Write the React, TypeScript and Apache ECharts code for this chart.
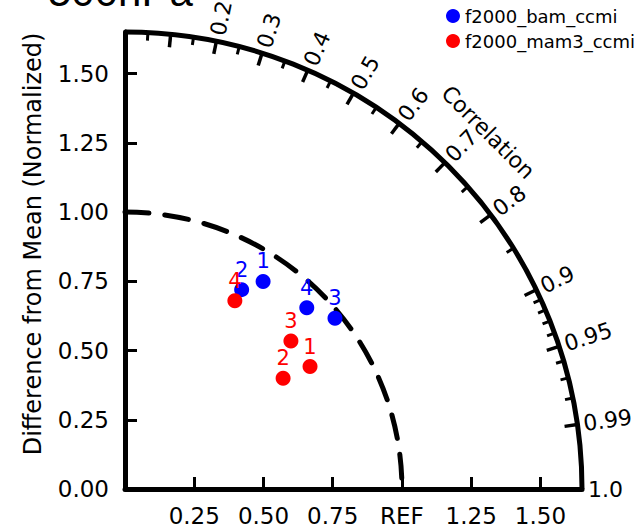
import React, { useEffect, useRef } from "react";
import * as echarts from "echarts";

// ---- data (Taylor diagram: normalized std ratio and correlation) ----
const seriesNames = ["f2000_bam_ccmi", "f2000_mam3_ccmi"];
const seriesColors = ["#0000ff", "#ff0000"];
const caseLabels = ["1", "2", "3", "4"];
const bamRatio = [0.9, 0.834, 0.977, 0.927];
const bamCorr = [0.554, 0.505, 0.776, 0.708];
const mamRatio = [0.801, 0.697, 0.803, 0.787];
const mamCorr = [0.834, 0.819, 0.746, 0.504];

const stdTicks = [0, 0.25, 0.5, 0.75, 1.0, 1.25, 1.5];
const yTickLabels = ["0.00", "0.25", "0.50", "0.75", "1.00", "1.25", "1.50"];
const xTickLabels = ["", "0.25", "0.50", "0.75", "REF", "1.25", "1.50"];
const corrMajor = [0.1, 0.2, 0.3, 0.4, 0.5, 0.6, 0.7, 0.8, 0.9, 0.95, 0.99];
const corrMinor = [
  0.05, 0.15, 0.25, 0.35, 0.45, 0.55, 0.65, 0.75, 0.85,
  0.91, 0.92, 0.93, 0.94, 0.96, 0.97, 0.98,
];
const corrLabelValues = [0.2, 0.3, 0.4, 0.5, 0.6, 0.7, 0.8, 0.9, 0.95, 0.99, 1.0];
const corrLabels = ["0.2", "0.3", "0.4", "0.5", "0.6", "0.7", "0.8", "0.9", "0.95", "0.99", "1.0"];
const maxRatio = 1.65;
const refRatio = 1.0;
const titleText = "500hPa";
const yTitle = "Difference from Mean (Normalized)";
const corrTitle = "Correlation";

const FONT = "DejaVu Sans";

function toXY(ratio: number[], corr: number[]) {
  return ratio.map((r, i) => {
    const c = corr[i];
    return [r * c, r * Math.sqrt(1 - c * c)];
  });
}

function tickLabel(labels: string[]) {
  return (v: number) => {
    const i = stdTicks.findIndex((t) => Math.abs(t - v) < 1e-6);
    return i >= 0 ? labels[i] : "";
  };
}

export default function App() {
  const ref = useRef<HTMLDivElement>(null);
  useEffect(() => {
    document.body.style.margin = "0";
    const chart = echarts.init(ref.current!, null, { renderer: "svg" });

    const renderFrame = (params: any, api: any) => {
      const o = api.coord([0, 0]);
      const unit = api.size([1, 0])[0];
      const R = maxRatio * unit;
      const children: any[] = [];
      children.push({
        type: "arc",
        shape: { cx: o[0], cy: o[1], r: R, startAngle: -Math.PI / 2, endAngle: 0, clockwise: true },
        style: { stroke: "#000", lineWidth: 5, fill: "none" },
      });
      children.push({
        type: "arc",
        shape: { cx: o[0], cy: o[1], r: refRatio * unit, startAngle: -Math.PI / 2, endAngle: 0, clockwise: true },
        style: { stroke: "#000", lineWidth: 5, fill: "none", lineDash: [24, 16], lineCap: "round" },
      });
      const addTick = (c: number, len: number, w: number) => {
        const th = Math.acos(c);
        const cs = Math.cos(th), sn = Math.sin(th);
        children.push({
          type: "line",
          shape: {
            x1: o[0] + R * cs, y1: o[1] - R * sn,
            x2: o[0] + (R - len) * cs, y2: o[1] - (R - len) * sn,
          },
          style: { stroke: "#000", lineWidth: w },
        });
      };
      corrMajor.forEach((c) => addTick(c, 13, 3.5));
      corrMinor.forEach((c) => addTick(c, 8, 3));
      corrLabelValues.forEach((c, i) => {
        const th = Math.acos(c);
        const rr = R + 6;
        children.push({
          type: "text",
          x: o[0] + rr * Math.cos(th),
          y: o[1] - rr * Math.sin(th),
          rotation: th,
          style: {
            text: corrLabels[i], fill: "#000", fontSize: 22, fontFamily: FONT,
            align: "left", verticalAlign: "middle",
          },
        });
      });
      const ca = (44.5 * Math.PI) / 180;
      const cr = R + 52;
      children.push({
        type: "text",
        x: o[0] + cr * Math.cos(ca),
        y: o[1] - cr * Math.sin(ca),
        rotation: -Math.PI / 4,
        style: {
          text: corrTitle, fill: "#000", fontSize: 22, fontFamily: FONT,
          align: "center", verticalAlign: "middle",
        },
      });
      return { type: "group", children };
    };

    const scatter = (idx: number, ratio: number[], corr: number[]) => ({
      type: "scatter",
      name: seriesNames[idx],
      data: toXY(ratio, corr),
      symbol: "circle",
      symbolSize: 15,
      z: 5,
      itemStyle: { color: seriesColors[idx], opacity: 1 },
      label: {
        show: true,
        position: "top",
        distance: 2,
        fontSize: 21,
        fontFamily: FONT,
        color: seriesColors[idx],
        formatter: (p: any) => caseLabels[p.dataIndex],
      },
      emphasis: { disabled: true },
    });

    chart.setOption({
      animation: false,
      grid: { left: 125, top: 32, width: 457, height: 457, containLabel: false, outerBoundsMode: "none" },
      xAxis: {
        type: "value",
        min: 0,
        max: maxRatio,
        interval: 0.25,
        splitLine: { show: false },
        axisLine: { lineStyle: { color: "#000", width: 5 } },
        axisTick: { inside: true, length: 12, lineStyle: { color: "#000", width: 3 } },
        axisLabel: {
          margin: 15, color: "#000", fontSize: 23, fontFamily: FONT,
          formatter: tickLabel(xTickLabels),
        },
      },
      yAxis: {
        type: "value",
        min: 0,
        max: maxRatio,
        interval: 0.25,
        splitLine: { show: false },
        axisLine: { lineStyle: { color: "#000", width: 5 } },
        axisTick: { inside: true, length: 12, lineStyle: { color: "#000", width: 3 } },
        axisLabel: {
          margin: 16, color: "#000", fontSize: 23, fontFamily: FONT,
          formatter: tickLabel(yTickLabels),
        },
      },
      legend: {
        orient: "vertical",
        left: 446,
        top: 7,
        padding: 0,
        itemGap: 7,
        itemWidth: 14,
        itemHeight: 14,
        icon: "circle",
        selectedMode: false,
        data: seriesNames,
        textStyle: { color: "#000", fontSize: 18, fontFamily: FONT },
      },
      graphic: [
        {
          type: "text",
          left: 48,
          top: -30,
          style: { text: titleText, fill: "#000", fontSize: 42, fontFamily: "Liberation Sans" },
        },
        {
          type: "text",
          x: 33,
          y: 244,
          rotation: Math.PI / 2,
          style: {
            text: yTitle, fill: "#000", fontSize: 24, fontFamily: FONT,
            align: "center", verticalAlign: "middle",
          },
        },
      ],
      series: [
        {
          type: "custom",
          coordinateSystem: "cartesian2d",
          data: [[0, 0]],
          renderItem: renderFrame,
          silent: true,
          z: 2,
        },
        scatter(0, bamRatio, bamCorr),
        scatter(1, mamRatio, mamCorr),
      ],
    });
    return () => chart.dispose();
  }, []);
  return <div ref={ref} style={{ width: 641, height: 531 }} />;
}
